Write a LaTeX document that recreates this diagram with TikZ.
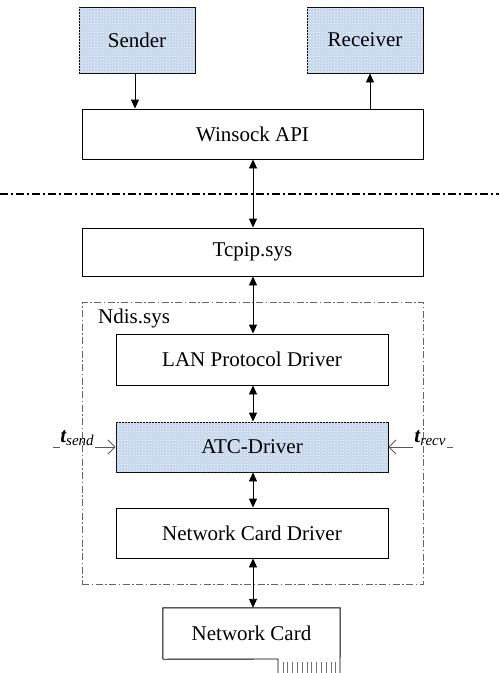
\documentclass[tikz,border=0pt]{standalone}
\usepackage{fontspec}
\setmainfont{Liberation Serif}
\usetikzlibrary{arrows.meta,patterns,calc}
\definecolor{boxblue}{RGB}{196,213,238}
\begin{document}
\begin{tikzpicture}[x=1pt,y=-1pt,
  font=\fontsize{21}{24}\selectfont,
  box/.style={draw=black,line width=0.9pt,fill=white,inner sep=0pt,anchor=center},
  hatch/.style={box,fill=boxblue,postaction={pattern=crosshatch dots,pattern color=white}},
  arr/.style={line width=0.9pt,-{Triangle[length=9pt,width=8pt]}},
  darr/.style={line width=0.9pt,{Triangle[length=9pt,width=8pt]}-{Triangle[length=9pt,width=8pt]}},
  tarr/.style={line width=0.9pt,draw=black!65,-{Straight Barb[length=7pt,width=14pt]}},
  tlabel/.style={inner sep=0pt,anchor=base}]
\useasboundingbox (0,0) rectangle (499,673);

% Ndis.sys frame
\node[draw=black!60,line width=0.8pt,dash pattern=on 7pt off 2.5pt on 1.5pt off 2.5pt,
  minimum width=341pt,minimum height=282pt,inner sep=0pt] (ndis) at (252.5,443) {};
\node[anchor=base west,inner sep=0pt] (ndislabel) at (98,323) {Ndis.sys};

% boxes
\node[hatch,minimum width=116pt,minimum height=66pt] (sender) at (137,40) {Sender};
\node[hatch,minimum width=116pt,minimum height=66pt] (receiver) at (365,40) {Receiver};
\node[box,minimum width=341pt,minimum height=50pt] (winsock) at (252.5,134) {Winsock API};
\node[box,minimum width=341pt,minimum height=48pt] (tcpip) at (252.5,252) {Tcpip.sys};
\node[box,minimum width=272pt,minimum height=51pt] (lan) at (252,359.5) {LAN Protocol Driver};
\node[hatch,minimum width=272pt,minimum height=50pt] (atc) at (252,447) {ATC-Driver};
\node[box,minimum width=272pt,minimum height=50pt] (ncd) at (252,533) {Network Card Driver};

% network card
\node[inner sep=0pt,minimum width=177pt,minimum height=51pt] (nc) at (251.5,633.5) {Network Card};
\draw[line width=0.9pt] (nc.south west) -- (nc.north west) -- (nc.north east) -- (340,673);
\draw[line width=0.9pt] (nc.south west) -- (278,659) -- (278,673);
\foreach \i in {0,...,11} \draw[black!55,line width=0.7pt] (283+4.8*\i,662) -- (283+4.8*\i,673);

% separator
\coordinate (sepL) at (0,194);
\coordinate (sepR) at (499,194);
\draw[line width=1.3pt,dash pattern=on 8pt off 3pt on 2pt off 3pt] (sepL) -- (sepR);

% arrows
\draw[arr] ([xshift=-2pt]sender.south) -- ([xshift=-2pt]sender.south |- winsock.north);
\draw[arr] ([xshift=5pt]receiver.south |- winsock.north) -- ([xshift=5pt]receiver.south);
\draw[darr] ([xshift=0.5pt]winsock.south) -- ([xshift=0.5pt]winsock.south |- tcpip.north);
\draw[darr] ([xshift=0.5pt]tcpip.south) -- ([xshift=0.5pt]tcpip.south |- lan.north);
\draw[darr] ([xshift=1pt]lan.south) -- ([xshift=1pt]lan.south |- atc.north);
\draw[darr] ([xshift=1pt]atc.south) -- ([xshift=1pt]atc.south |- ncd.north);
\draw[darr] ([xshift=1pt]ncd.south) -- ([xshift=1pt]ncd.south |- nc.north);

% timestamps
\node[tlabel] (tsend) at (77,442) {{\bfseries\itshape t}\raisebox{-0.35ex}{\fontsize{15}{17}\selectfont\itshape send}};
\node[tlabel] (trecv) at (430,442) {{\bfseries\itshape t}\raisebox{-0.35ex}{\fontsize{15}{17}\selectfont\itshape recv}};
\coordinate (tsA) at (53,447);
\coordinate (trA) at (453,447);
\draw[draw=black!65,line width=0.9pt] (tsA) -- (tsA -| tsend.west);
\draw[tarr] ([xshift=1pt]tsA -| tsend.east) -- (atc.west);
\draw[draw=black!65,line width=0.9pt] (trA) -- ([xshift=1pt]trA -| trecv.east);
\draw[tarr] ([xshift=-1pt]trA -| trecv.west) -- (atc.east);
\end{tikzpicture}
\end{document}
